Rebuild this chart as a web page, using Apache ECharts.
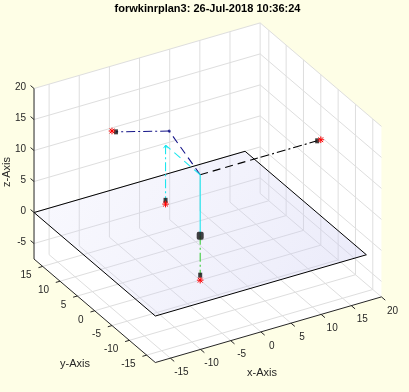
<!DOCTYPE html>
<html><head><meta charset="utf-8">
<script src="https://cdn.jsdelivr.net/npm/echarts@6/dist/echarts.min.js"></script>
<style>html,body{margin:0;padding:0;background:#fefee6;} #c{width:409px;height:392px;}</style>
</head><body><div id="c"></div>
<script>
// ---------- data ----------
const titleText = 'forwkinrplan3: 26-Jul-2018 10:36:24';
const xLim = [-17.5, 20];
const yLim = [-17.5, 17.5];
const zLim = [-7.5, 20];
const xTicks = [-15, -10, -5, 0, 5, 10, 15, 20];
const yTicks = [-15, -10, -5, 0, 5, 10, 15];
const zTicks = [-5, 0, 5, 10, 15, 20];
const axisNames = ['x-Axis', 'y-Axis', 'z-Axis'];
// floor plane (z = 0)
const planeX = [-17.5, 17.5];
const planeY = [-17.5, 17.5];
const planeZ = 0;
// lines, points as [x, y, z]
const blackDashed  = [[0, 0, 9.5], [10, 0, 9.5]];
const blackDashDot = [[10, 0, 9.5], [19.4, 0, 9.5]];
const blueDashed   = [[0, 0, 9.5], [2.5, 13.3, 9.5]];
const blueDashDot  = [[2.5, 13.3, 9.5], [-4.2, 17.0, 9.5]];
const cyanSolid    = [[0, 0, 9.5], [0, 0, -0.35]];
const cyanDashed   = [[0, 0, 9.5], [0, 10, 9.5]];
const cyanDashDot  = [[0, 10, 9.5], [0, 10, 0.6]];
const greenDashDot = [[0, 0, -0.35], [0, 0, -6.7]];
const squareMarks  = [[19.4, 0, 9.5], [-4.2, 17.0, 9.5], [0, 10, 0.6], [0, 0, -6.7]];
const bigMarks     = [[0, 0, -0.35]];
const dotMarks     = [[2.5, 13.3, 9.5]];
const cyanArrowTip = [[0, 10, 9.5]];
const starMarks    = [[20, 0, 9.5], [-4.57, 17.5, 9.5], [0, 10, 0], [0, 0, -7.5]];

// ---------- view (orthographic projection onto the page plane) ----------
const view = { ox: 200.2, oy: 233.65, ex: [6.03, -1.75], ey: [-3.466, -2.957], ez: [0, -6.2] };
function P(p) {
  return [view.ox + p[0] * view.ex[0] + p[1] * view.ey[0] + p[2] * view.ez[0],
          view.oy + p[0] * view.ex[1] + p[1] * view.ey[1] + p[2] * view.ez[1]];
}
const FONT = '"Liberation Sans", Arial, Helvetica, sans-serif';
const AX = '#262626';
const CYAN = '#1ee6ee';

function seg(C, a, b, style) {
  const p = C(a), q = C(b);
  return { type: 'line', shape: { x1: p[0], y1: p[1], x2: q[0], y2: q[1] }, style: style };
}

function renderScene(params, api) {
  const C = p => api.coord(P(p));
  const [x0, x1] = xLim, [y0, y1] = yLim, [z0, z1] = zLim;
  const ch = [];
  // back walls
  const hex = [[x0, y1, z1], [x1, y1, z1], [x1, y0, z1], [x1, y0, z0], [x0, y0, z0], [x0, y1, z0]].map(C);
  ch.push({ type: 'polygon', shape: { points: hex }, style: { fill: '#ffffff' } });
  // grid
  const g = { stroke: '#dedede', lineWidth: 1 };
  xTicks.forEach(t => { ch.push(seg(C, [t, y1, z0], [t, y1, z1], g)); ch.push(seg(C, [t, y0, z0], [t, y1, z0], g)); });
  yTicks.forEach(t => { ch.push(seg(C, [x1, t, z0], [x1, t, z1], g)); ch.push(seg(C, [x0, t, z0], [x1, t, z0], g)); });
  zTicks.forEach(t => { ch.push(seg(C, [x0, y1, t], [x1, y1, t], g)); ch.push(seg(C, [x1, y0, t], [x1, y1, t], g)); });
  // plane
  const pl = [[planeX[0], planeY[1], planeZ], [planeX[1], planeY[1], planeZ], [planeX[1], planeY[0], planeZ], [planeX[0], planeY[0], planeZ]].map(C);
  ch.push({ type: 'polygon', shape: { points: pl }, style: {
    fill: new echarts.graphic.LinearGradient(pl[0][0], pl[1][1], pl[2][0], pl[3][1], [
      { offset: 0, color: 'rgba(215,215,248,0.15)' },
      { offset: 1, color: 'rgba(200,200,240,0.38)' }], true),
    stroke: '#000', lineWidth: 1 } });
  // axes
  const a = { stroke: AX, lineWidth: 1 };
  ch.push(seg(C, [x0, y1, z0], [x0, y1, z1], a));
  ch.push(seg(C, [x0, y0, z0], [x0, y1, z0], a));
  ch.push(seg(C, [x0, y0, z0], [x1, y0, z0], a));
  const ts = { font: '10px ' + FONT, fill: AX };
  zTicks.forEach(t => {
    ch.push(seg(C, [x0, y1, t], [x0, y1 + 1.0, t], a));
    const p = C([x0, y1, t]);
    ch.push({ type: 'text', x: p[0] - 8, y: p[1] - 1, style: Object.assign({ text: String(t), align: 'right', verticalAlign: 'middle' }, ts) });
  });
  yTicks.forEach(t => {
    ch.push(seg(C, [x0, t, z0], [x0 - 0.7, t, z0], a));
    const p = C([x0, t, z0]);
    ch.push({ type: 'text', x: p[0] - 11, y: p[1] + 9, style: Object.assign({ text: String(t), align: 'right', verticalAlign: 'middle' }, ts) });
  });
  xTicks.forEach(t => {
    ch.push(seg(C, [t, y0, z0], [t, y0 - 1.1, z0], a));
    const p = C([t, y0, z0]);
    ch.push({ type: 'text', x: p[0] + 11, y: p[1] + 14, style: Object.assign({ text: String(t), align: 'center', verticalAlign: 'middle' }, ts) });
  });
  // axis names
  const an = { font: '11px ' + FONT, fill: AX, align: 'center', verticalAlign: 'middle' };
  ch.push({ type: 'text', x: 262, y: 373, style: Object.assign({ text: axisNames[0] }, an) });
  ch.push({ type: 'text', x: 75, y: 364, style: Object.assign({ text: axisNames[1] }, an) });
  ch.push({ type: 'text', x: 7, y: 172, rotation: Math.PI / 2, style: Object.assign({ text: axisNames[2] }, an) });
  return { type: 'group', children: ch };
}

function renderStar(params, api) {
  const p = api.coord([api.value(0), api.value(1)]);
  const r = 3.3, d = 2.4;
  const st = { stroke: '#ff0000', lineWidth: 1 };
  const L = (ax, ay, bx, by) => ({ type: 'line', shape: { x1: p[0] + ax, y1: p[1] + ay, x2: p[0] + bx, y2: p[1] + by }, style: st });
  return { type: 'group', children: [L(-r, 0, r, 0), L(0, -r, 0, r), L(-d, -d, d, d), L(-d, d, d, -d)] };
}
function renderArrow(params, api) {
  const p = api.coord([api.value(0), api.value(1)]);
  return { type: 'polyline', shape: { points: [[p[0] - 2, p[1] + 3], [p[0], p[1]], [p[0] + 2, p[1] + 3]] }, style: { stroke: CYAN, fill: null, lineWidth: 1 } };
}

const DASH = [8, 5];
const DASHDOT = [9, 3, 2, 3];
function lineSeries(pts, color, type) {
  return { type: 'line', data: pts.map(P), symbol: 'none', silent: true, z: 3, animation: false,
    lineStyle: { color: color, width: 1.1, type: type } };
}

const chart = echarts.init(document.getElementById('c'), null, { renderer: 'canvas' });
chart.setOption({
  backgroundColor: '#fefee6',
  animation: false,
  title: { text: titleText, left: 207.5, textAlign: 'center', top: 3, padding: 0,
    textStyle: { fontSize: 11, fontWeight: 'bold', color: '#000', fontFamily: FONT } },
  grid: { left: 0, right: 0, top: 0, bottom: 0 },
  xAxis: { type: 'value', min: 0, max: 409, show: false },
  yAxis: { type: 'value', min: 0, max: 392, inverse: true, show: false },
  series: [
    { type: 'custom', renderItem: renderScene, data: [[0, 0]], z: 1, silent: true },
    lineSeries(blackDashed, '#000000', DASH),
    lineSeries(blackDashDot, '#000000', DASHDOT),
    lineSeries(blueDashed, '#141488', DASH),
    lineSeries(blueDashDot, '#141488', DASHDOT),
    lineSeries(cyanSolid, CYAN, 'solid'),
    lineSeries(cyanDashed, CYAN, DASH),
    lineSeries(cyanDashDot, CYAN, DASHDOT),
    lineSeries(greenDashDot, '#3ccc3c', DASHDOT),
    { type: 'custom', renderItem: renderArrow, data: cyanArrowTip.map(P), z: 4, silent: true },
    { type: 'scatter', data: squareMarks.map(P), symbol: 'rect', symbolSize: [4, 5], z: 4, silent: true, itemStyle: { color: '#111' } },
    { type: 'scatter', data: bigMarks.map(P), symbol: 'roundRect', symbolSize: [7, 8], z: 4, silent: true, itemStyle: { color: '#111' } },
    { type: 'scatter', data: dotMarks.map(P), symbol: 'circle', symbolSize: 3, z: 4, silent: true, itemStyle: { color: '#141488' } },
    { type: 'custom', renderItem: renderStar, data: starMarks.map(P), z: 5, silent: true }
  ]
});
</script></body></html>
